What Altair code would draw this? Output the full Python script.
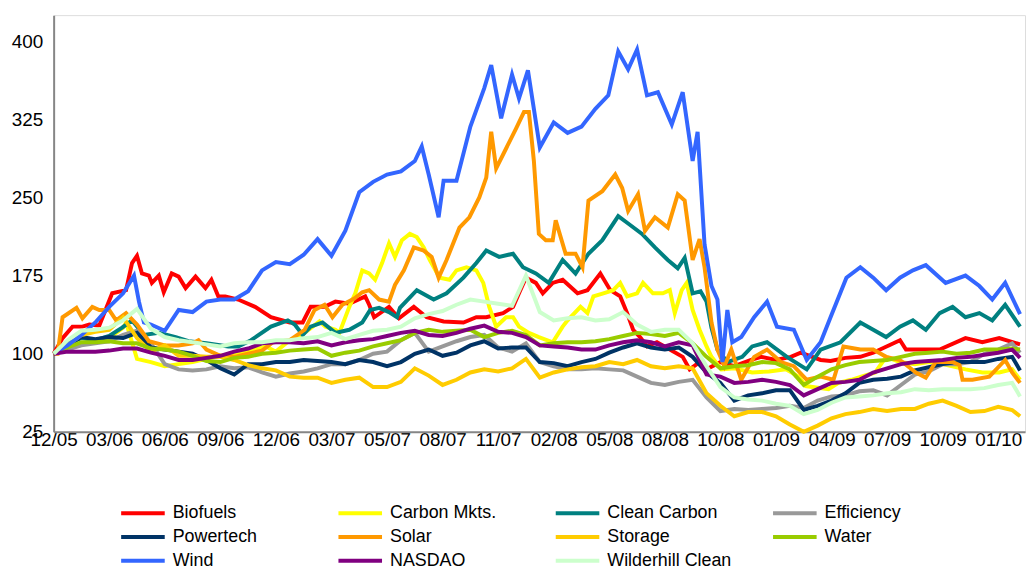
import altair as alt
import pandas as pd

# Time index (trading-day style index, 56 units per label step); regular sampling grid
GRID = [14 * i for i in range(70)] + [974]

tick_labels = ["12/05", "03/06", "06/06", "09/06", "12/06", "03/07", "05/07", "08/07", "11/07",
               "02/08", "05/08", "08/08", "10/08", "01/09", "04/09", "07/09", "10/09", "01/10"]
tick_positions = [56 * i for i in range(len(tick_labels))]

series_names = ["Biofuels", "Carbon Mkts.", "Clean Carbon", "Efficiency", "Powertech", "Solar",
                "Storage", "Water", "Wind", "NASDAQ", "Wilderhill Clean"]
series_colors = ["#FF0000", "#FFFF00", "#008080", "#999999", "#003366", "#FF9900",
                 "#FFCC00", "#99CC00", "#3366FF", "#800080", "#CCFFCC"]

# series read at irregular positions: (index, value)
biofuels = [(0, 100), (9, 115), (19, 126), (29, 126), (36, 128), (46, 127), (59, 158), (73, 161),
            (79, 187), (84, 194), (89, 177), (96, 175), (99, 168), (106, 175), (111, 159), (119, 177),
            (126, 174), (133, 163), (143, 174), (153, 163), (159, 171), (166, 155), (173, 155),
            (186, 152), (203, 145), (219, 135), (238, 130), (251, 130), (259, 145), (273, 145),
            (284, 150), (298, 148), (314, 155), (318, 147), (323, 135), (338, 145), (348, 134),
            (363, 145), (376, 135), (393, 131), (413, 130), (426, 135), (436, 135), (453, 139),
            (463, 145), (469, 158), (476, 173), (486, 168), (493, 158), (503, 168), (513, 171),
            (528, 158), (538, 161), (551, 177), (561, 161), (571, 155), (578, 139), (584, 123),
            (591, 116), (598, 107), (608, 111), (621, 104), (634, 97), (641, 85), (651, 92), (658, 85),
            (672, 92), (686, 88), (703, 94), (713, 97), (728, 94), (743, 97), (753, 101), (773, 94),
            (783, 93), (798, 96), (813, 97), (826, 101), (853, 113), (859, 104), (893, 104), (919, 115),
            (936, 111), (953, 115), (974, 109)]
carbon_mkts = [(0, 100), (14, 105), (28, 110), (42, 112), (56, 115), (70, 125), (73, 130), (84, 95),
               (98, 92), (112, 88), (126, 90), (140, 92), (154, 95), (168, 98), (182, 100), (196, 102),
               (214, 107), (224, 102), (238, 113), (253, 120), (268, 131), (274, 126), (284, 123),
               (288, 120), (298, 145), (304, 158), (311, 180), (318, 177), (324, 171), (331, 187),
               (338, 206), (344, 193), (351, 209), (359, 215), (366, 212), (373, 202), (379, 190),
               (389, 173), (399, 171), (406, 180), (416, 183), (426, 180), (433, 168), (439, 145),
               (446, 126), (456, 135), (463, 135), (469, 126), (479, 120), (489, 116), (503, 111),
               (513, 126), (518, 132), (531, 145), (538, 139), (544, 155), (554, 158), (564, 161),
               (571, 168), (578, 155), (588, 158), (594, 168), (604, 158), (614, 158), (621, 161),
               (626, 139), (633, 161), (638, 168), (644, 142), (651, 123), (658, 107), (663, 97),
               (673, 85), (686, 86), (704, 82), (721, 83), (738, 85), (751, 78), (758, 69), (781, 66),
               (791, 72), (804, 75), (814, 78), (828, 82), (839, 97), (853, 92), (868, 90), (882, 92),
               (896, 90), (919, 85), (936, 82), (953, 82), (966, 85), (974, 75)]
clean_carbon = [(0, 100), (14, 110), (28, 115), (42, 113), (56, 117), (69, 125), (79, 132), (91, 118),
                (106, 120), (123, 116), (136, 112), (154, 110), (176, 107), (186, 107), (199, 113),
                (219, 126), (236, 132), (243, 128), (251, 118), (259, 126), (271, 130), (284, 120),
                (298, 123), (311, 130), (319, 142), (328, 144), (338, 140), (346, 135), (349, 144),
                (366, 161), (383, 152), (396, 158), (413, 173), (426, 187), (436, 199), (449, 193),
                (463, 196), (473, 183), (486, 177), (499, 168), (513, 190), (526, 177), (539, 196),
                (553, 209), (569, 232), (579, 225), (593, 215), (606, 202), (619, 190), (629, 182),
                (636, 192), (644, 158), (652, 160), (658, 150), (663, 125), (669, 104), (679, 92),
                (694, 97), (704, 107), (719, 111), (739, 97), (759, 85), (773, 104), (793, 111),
                (813, 130), (826, 123), (839, 116), (853, 126), (866, 132), (879, 123), (893, 139),
                (906, 145), (919, 135), (933, 139), (946, 132), (959, 147), (974, 126)]
solar = [(0, 100), (4, 100), (9, 135), (23, 144), (29, 134), (39, 145), (46, 142), (56, 142), (63, 132),
         (73, 139), (84, 128), (96, 112), (112, 108), (126, 108), (140, 110), (146, 113), (154, 104),
         (168, 98), (182, 97), (196, 100), (210, 103), (221, 111), (238, 113), (253, 123), (263, 142),
         (273, 147), (281, 135), (291, 147), (303, 153), (311, 159), (318, 161), (328, 152), (338, 150),
         (344, 166), (353, 180), (363, 202), (373, 199), (381, 193), (388, 173), (396, 190), (409, 221),
         (419, 231), (429, 250), (436, 269), (441, 313), (446, 278), (456, 297), (466, 316), (474, 332),
         (479, 332), (484, 285), (489, 215), (496, 209), (503, 209), (506, 228), (516, 196), (526, 196),
         (533, 183), (539, 247), (553, 256), (566, 272), (573, 259), (579, 237), (589, 253), (596, 218),
         (606, 231), (619, 221), (629, 253), (636, 247), (644, 190), (651, 210), (656, 183), (663, 130),
         (669, 104), (676, 88), (683, 104), (693, 75), (706, 97), (719, 104), (733, 92), (746, 88),
         (759, 75), (773, 78), (786, 75), (796, 107), (813, 104), (826, 104), (839, 97), (853, 94),
         (869, 82), (879, 77), (889, 92), (906, 92), (913, 89), (916, 75), (926, 75), (943, 78),
         (959, 94), (966, 82), (974, 72)]
wind = [(0, 100), (14, 108), (28, 118), (42, 130), (56, 145), (70, 158), (81, 175), (86, 150), (91, 130),
        (98, 128), (112, 122), (126, 142), (140, 140), (154, 150), (168, 152), (182, 152), (196, 160),
        (210, 180), (224, 188), (238, 186), (252, 195), (266, 210), (280, 194), (294, 218), (308, 255),
        (322, 265), (336, 272), (350, 275), (364, 285), (371, 299), (378, 272), (388, 231), (393, 266),
        (406, 266), (420, 318), (434, 355), (441, 377), (451, 326), (462, 368), (469, 345), (478, 372),
        (490, 298), (504, 322), (518, 312), (532, 318), (546, 335), (559, 348), (569, 390), (579, 373),
        (588, 392), (598, 348), (609, 351), (623, 320), (634, 351), (644, 285), (649, 313), (656, 205),
        (663, 165), (669, 152), (674, 92), (679, 142), (684, 111), (693, 116), (706, 135), (719, 150),
        (729, 126), (746, 123), (759, 94), (773, 111), (783, 135), (799, 173), (813, 183), (826, 173),
        (839, 161), (853, 173), (866, 180), (879, 185), (899, 168), (919, 175), (933, 165), (946, 152),
        (959, 168), (974, 138)]

# series read on the regular grid
efficiency = [100, 104, 108, 110, 112, 118, 122, 110, 90, 85, 84, 85, 88, 86, 87, 82, 78, 81, 83, 86,
              90, 90, 94, 100, 102, 113, 120, 102, 107, 112, 116, 118, 106, 102, 110, 92, 88, 85, 85,
              86, 85, 84, 78, 72, 70, 73, 75, 58, 45, 47, 46, 47, 48, 50, 48, 55, 59, 60, 64, 65, 60,
              70, 80, 83, 90, 90, 92, 100, 104, 110, 101]
powertech = [100, 108, 116, 114, 116, 115, 120, 106, 104, 102, 100, 94, 86, 80, 90, 90, 92, 92, 94,
             93, 92, 90, 94, 92, 88, 92, 100, 104, 98, 101, 108, 112, 105, 106, 106, 92, 91, 88, 92,
             95, 101, 106, 110, 106, 104, 106, 97, 82, 72, 55, 60, 62, 65, 65, 46, 50, 55, 62, 72, 75,
             76, 78, 84, 87, 90, 92, 92, 92, 95, 97, 84]
storage = [100, 108, 118, 121, 123, 135, 115, 102, 108, 98, 98, 97, 97, 94, 89, 86, 84, 78, 77, 77, 72,
           75, 77, 68, 68, 73, 86, 79, 70, 75, 82, 85, 83, 86, 95, 77, 82, 85, 87, 88, 92, 90, 94, 88,
           86, 88, 86, 62, 50, 40, 44, 44, 40, 32, 25, 31, 38, 42, 44, 47, 45, 47, 47, 52, 55, 50, 44,
           45, 49, 46, 40]
water = [100, 106, 111, 111, 112, 110, 110, 105, 104, 102, 98, 93, 92, 96, 97, 100, 101, 103, 104, 105,
         98, 101, 103, 107, 110, 113, 120, 123, 121, 122, 123, 116, 120, 122, 118, 108, 110, 111, 111,
         112, 114, 117, 120, 119, 117, 120, 110, 97, 86, 88, 89, 92, 91, 85, 70, 78, 85, 89, 92, 93, 94,
         97, 100, 101, 102, 100, 101, 104, 104, 105, 104]
nasdaq = [100, 102, 102, 102, 103, 105, 105, 101, 98, 94, 94, 96, 98, 102, 105, 110, 111, 111, 110,
          112, 108, 111, 113, 114, 117, 120, 122, 118, 117, 120, 124, 127, 121, 120, 116, 108, 107, 106,
          104, 104, 108, 111, 113, 111, 107, 111, 108, 80, 78, 72, 73, 75, 73, 70, 60, 66, 72, 73, 75,
          82, 86, 90, 92, 93, 94, 96, 97, 99, 101, 104, 96]
wilderhill = [100, 113, 122, 123, 125, 132, 143, 124, 116, 113, 111, 109, 107, 110, 111, 111, 113, 113,
              115, 116, 120, 114, 118, 122, 123, 126, 134, 138, 141, 147, 152, 150, 148, 146, 175, 140,
              132, 134, 135, 132, 133, 140, 128, 121, 123, 123, 110, 88, 68, 58, 56, 55, 52, 50, 42, 46,
              53, 58, 59, 60, 62, 63, 66, 65, 66, 66, 66, 67, 70, 72, 59]

paired = {"Biofuels": biofuels, "Carbon Mkts.": carbon_mkts, "Clean Carbon": clean_carbon,
          "Solar": solar, "Wind": wind}
gridded = {"Efficiency": efficiency, "Powertech": powertech, "Storage": storage, "Water": water,
           "NASDAQ": nasdaq, "Wilderhill Clean": wilderhill}

rows = []
for name in series_names:
    if name in paired:
        pts = paired[name]
    else:
        pts = list(zip(GRID, gridded[name]))
    for d, v in pts:
        rows.append({"series": name, "d": d, "v": v})
df = pd.DataFrame(rows)

label_array = "[" + ",".join("'" + s + "'" for s in tick_labels) + "]"

x_enc = alt.X("d:Q", scale=alt.Scale(domain=[0, 979], nice=False, zero=False),
              axis=alt.Axis(values=tick_positions, labelExpr=label_array + "[datum.value / 56]",
                            title=None, grid=False, ticks=False, labelFontSize=19, labelPadding=-1,
                            labelFont="Liberation Sans", labelColor="#000000", domainColor="#868686",
                            domainWidth=2, labelFlush=False, labelOverlap=False))
y_enc = alt.Y("v:Q", scale=alt.Scale(domain=[25, 425], nice=False, zero=False),
              axis=alt.Axis(values=[25, 100, 175, 250, 325, 400], title=None, grid=False, ticks=False,
                            labelFontSize=19, labelPadding=11, labelFont="Liberation Sans",
                            labelColor="#000000", domainColor="#868686", domainWidth=2,
                            labelOverlap=False))
color_enc = alt.Color("series:N",
                      scale=alt.Scale(domain=series_names, range=series_colors),
                      legend=alt.Legend(orient="none", legendX=76, legendY=488, direction="horizontal",
                                        columns=4, title=None, symbolType="M-1.83,0H1.83",
                                        symbolStrokeWidth=4, symbolSize=576, labelFontSize=18,
                                        labelFont="Liberation Sans", labelColor="#000000",
                                        columnPadding=33, rowPadding=1, gridAlign="all",
                                        labelOffset=16, labelLimit=220))

layers = []
for name in series_names:
    layers.append(
        alt.Chart(df).transform_filter(alt.datum.series == name)
        .mark_line(strokeWidth=4, interpolate="linear")
        .encode(x=x_enc, y=y_enc, color=color_enc)
    )

chart = alt.layer(*layers).properties(
    width=979, height=420,
    autosize=alt.AutoSizeParams(type="none"),
    padding={"left": 46, "top": 5, "right": 3, "bottom": 133},
).configure_view(stroke=None).configure(background="#FFFFFF")

chart.save("out.html", embed_options={"renderer": "svg", "actions": False})
